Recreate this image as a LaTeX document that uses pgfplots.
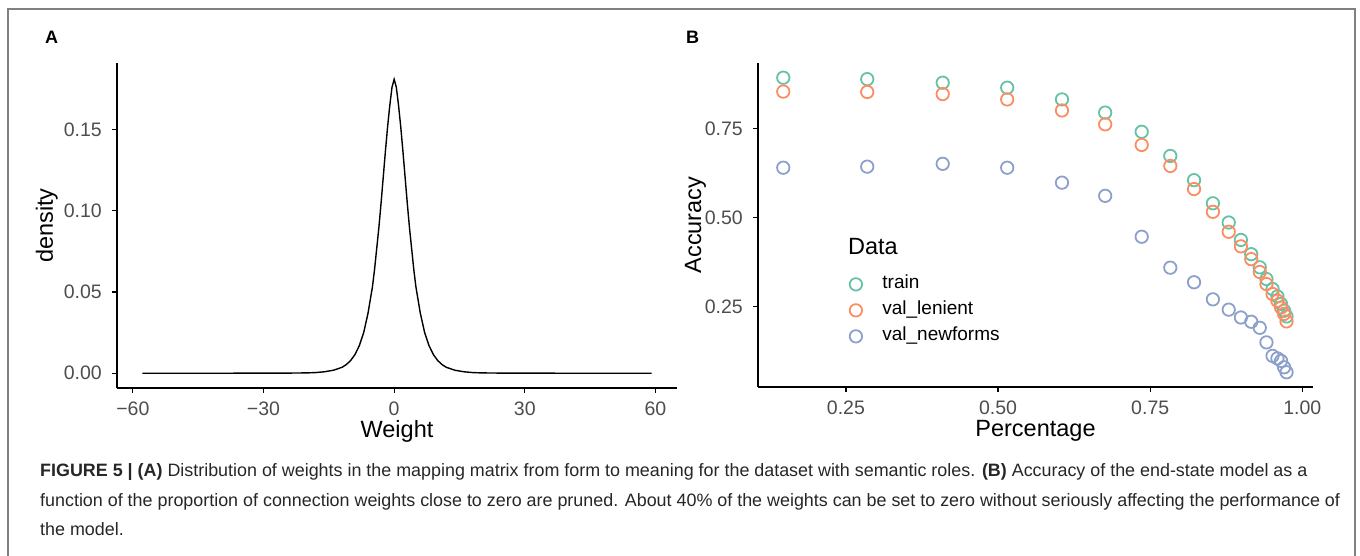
\documentclass[border=0pt]{standalone}
\usepackage{fontspec}
\setmainfont{Liberation Sans}
\usepackage{pgfplots}
\pgfplotsset{compat=1.18}
\definecolor{cgreen}{HTML}{66C2A5}
\definecolor{corange}{HTML}{FC8D62}
\definecolor{cblue}{HTML}{8DA0CB}
\definecolor{tickgray}{HTML}{4D4D4D}
\definecolor{framegray}{HTML}{808080}
\definecolor{capgray}{HTML}{262626}

\pgfplotstableread{
x y
-57.8 0
-50 0
-40 0
-30 0.00003
-25 0.00006
-20 0.0002
-18 0.0004
-16 0.0009
-14 0.0018
-12 0.0036
-11 0.0053
-10 0.0078
-9 0.0115
-8 0.017
-7 0.025
-6 0.037
-5 0.053
-4.5 0.064
-4 0.077
-3.5 0.090
-3 0.105
-2.5 0.121
-2 0.137
-1.5 0.152
-1 0.165
-0.5 0.176
0 0.181
0.5 0.176
1 0.165
1.5 0.152
2 0.137
2.5 0.121
3 0.105
3.5 0.090
4 0.077
4.5 0.064
5 0.053
6 0.037
7 0.025
8 0.017
9 0.0115
10 0.0078
11 0.0053
12 0.0036
14 0.0018
16 0.0009
18 0.0004
20 0.0002
25 0.00006
30 0.00003
40 0
50 0
59.1 0
}\densitydata

\pgfplotstableread{
x y
0.147 0.893
0.285 0.889
0.409 0.879
0.515 0.865
0.605 0.832
0.676 0.795
0.736 0.741
0.783 0.673
0.822 0.605
0.853 0.540
0.879 0.486
0.899 0.437
0.916 0.397
0.930 0.360
0.941 0.327
0.951 0.299
0.959 0.278
0.965 0.257
0.970 0.238
0.974 0.222
}\traindata

\pgfplotstableread{
x y
0.147 0.854
0.285 0.853
0.409 0.847
0.515 0.832
0.605 0.801
0.676 0.762
0.736 0.704
0.783 0.645
0.822 0.580
0.853 0.516
0.879 0.460
0.899 0.419
0.916 0.383
0.930 0.347
0.941 0.313
0.951 0.285
0.959 0.266
0.965 0.247
0.970 0.229
0.974 0.208
}\lenientdata

\pgfplotstableread{
x y
0.147 0.640
0.285 0.643
0.409 0.651
0.515 0.640
0.605 0.598
0.676 0.561
0.736 0.446
0.783 0.359
0.822 0.318
0.853 0.270
0.879 0.241
0.899 0.219
0.916 0.207
0.930 0.190
0.941 0.149
0.951 0.111
0.959 0.104
0.965 0.097
0.970 0.079
0.974 0.065
}\newformsdata

\pgfplotsset{
  gg/.style={
    scale only axis,
    axis x line*=bottom,
    axis y line*=left,
    axis line style={black, line width=1.2pt, -},
    tick align=outside,
    major tick length=5pt,
    every tick/.style={black, line width=1.2pt},
    tick label style={font=\fontsize{19.5}{22}\selectfont, text=tickgray},
    xticklabel style={anchor=north, inner sep=0pt, yshift=-9pt},
    yticklabel style={anchor=east, inner sep=0pt, xshift=-10pt},
    label style={font=\fontsize{23.5}{27}\selectfont, text=black},
    clip=false,
  }
}

\begin{document}
\begin{tikzpicture}[x=1pt,y=1pt]
\path[use as bounding box] (0,0) rectangle (1360,556);
\draw[framegray, line width=1.5pt] (8,0) -- (8,547) -- (1355,547) -- (1355,0);
\node[anchor=base west, inner sep=0pt, font=\fontsize{18}{20}\selectfont\bfseries] at (45,512) {A};
\node[anchor=base west, inner sep=0pt, font=\fontsize{18}{20}\selectfont\bfseries] at (686,512) {B};

\begin{axis}[gg,
  at={(117pt,168pt)}, anchor=south west,
  width=560pt, height=325pt,
  xmin=-63.65, xmax=64.95, ymin=-0.0091, ymax=0.191,
  xtick={-60,-30,0,30,60}, xticklabels={−60,−30,0,30,60},
  ytick={0,0.05,0.1,0.15}, yticklabels={0.00,0.05,0.10,0.15},
  xlabel={Weight}, ylabel={density},
  xlabel style={at={(axis description cs:0.5,0)}, anchor=base, yshift=-50pt},
  every axis y label/.style={at={([xshift=-64pt]axis description cs:0,0.5)}, anchor=base, rotate=90, font=\fontsize{23.5}{27}\selectfont, text=black},
]
\addplot[black, line width=1.4pt] table[x=x,y=y] {\densitydata};
\end{axis}

\begin{axis}[gg,
  at={(758pt,169pt)}, anchor=south west,
  width=555pt, height=324pt,
  xmin=0.1055, xmax=1.0175, ymin=0.0236, ymax=0.9344,
  xtick={0.25,0.5,0.75,1}, xticklabels={0.25,0.50,0.75,1.00},
  ytick={0.25,0.5,0.75}, yticklabels={0.25,0.50,0.75},
  xlabel={Percentage}, ylabel={Accuracy},
  xlabel style={at={(axis description cs:0.5,0)}, anchor=base, yshift=-50pt},
  every axis y label/.style={at={([xshift=-57pt]axis description cs:0,0.5)}, anchor=base, rotate=90, font=\fontsize{23.5}{27}\selectfont, text=black},
  legend style={at={(0.158,0.356)}, anchor=north west, draw=none, fill=none,
    font=\fontsize{19}{22}\selectfont, row sep=5pt,
    nodes={text height=13pt, text depth=4pt}},
  legend cell align=left,
  legend image code/.code={\draw[#1] plot coordinates {(0pt,0pt)}; \path[draw=none] (-7pt,0pt) (24.5pt,0pt);},
]
\addplot[only marks, mark=o, mark size=6.2pt, cgreen, line width=1.8pt] table[x=x,y=y] {\traindata};
\addlegendentry{train}
\addplot[only marks, mark=o, mark size=6.2pt, corange, line width=1.8pt] table[x=x,y=y] {\lenientdata};
\addlegendentry{val\_lenient}
\addplot[only marks, mark=o, mark size=6.2pt, cblue, line width=1.8pt] table[x=x,y=y] {\newformsdata};
\addlegendentry{val\_newforms}
\node[anchor=base west, inner sep=0pt, font=\fontsize{23.5}{27}\selectfont] at (rel axis cs:0.162,0.41) {Data};
\end{axis}

\begin{scope}[every node/.style={anchor=base west, inner sep=0pt, font=\fontsize{17.9}{20}\selectfont, text=capgray}]
\node at (40,79) {\textbf{FIGURE 5 | (A)} Distribution of weights in the mapping matrix from form to meaning for the dataset with semantic roles. \textbf{(B)} Accuracy of the end-state model as a};
\node at (40,49) {function of the proportion of connection weights close to zero are pruned. About 40\% of the weights can be set to zero without seriously affecting the performance of};
\node at (40,20) {the model.};
\end{scope}
\end{tikzpicture}
\end{document}
